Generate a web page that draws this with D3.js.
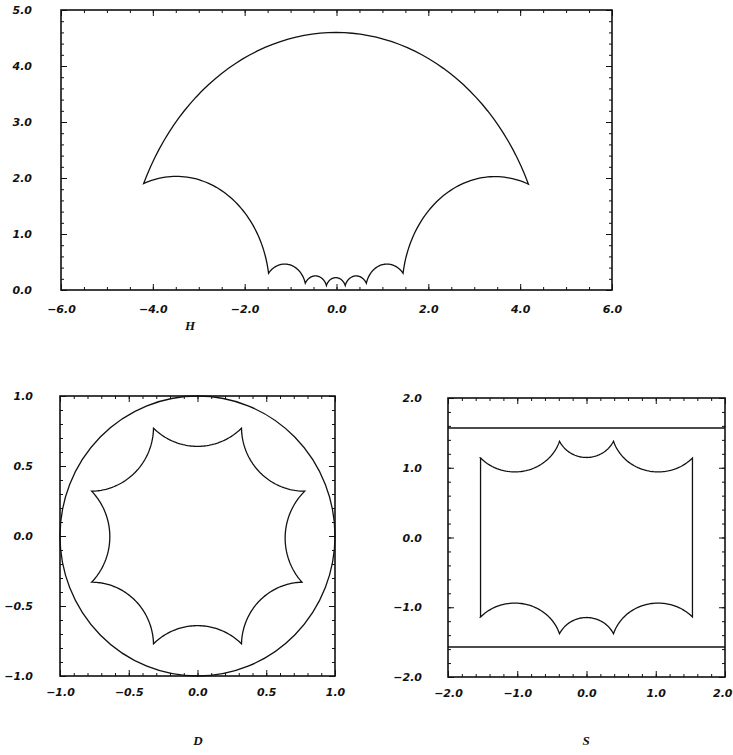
<!DOCTYPE html>
<html>
<head>
<meta charset="utf-8">
<script src="https://cdn.jsdelivr.net/npm/d3@7"></script>
<style>
  body { margin: 0; background: #fff; }
  .tick text { font-family: "DejaVu Sans", sans-serif; font-weight: bold; font-style: italic; font-size: 11px; fill: #111; }
  .tick line { stroke: #111; }
  .title { font-family: "Liberation Serif", serif; font-weight: bold; font-style: italic; font-size: 13px; fill: #111; }
</style>
</head>
<body>
<div id="chart"></div>
<script>
// vertices of the domain (x, y in model coordinates)
const halfPlaneVertices = [
  [-4.2, 1.9], [4.18, 1.89], [1.45, 0.30], [0.65, 0.12], [0.19, 0.08],
  [-0.22, 0.08], [-0.68, 0.12], [-1.48, 0.30]
];
const discVertices = [
  [-0.32, 0.77], [0.32, 0.77], [0.78, 0.32], [0.76, -0.33],
  [0.32, -0.77], [-0.32, -0.77], [-0.77, -0.33], [-0.77, 0.32]
];
const stripVertices = [
  [-1.53, 1.14], [-0.39, 1.38], [0.39, 1.38], [1.53, 1.14],
  [1.53, -1.14], [0.39, -1.38], [-0.39, -1.38], [-1.53, -1.14]
];
const discRadius = 1;
const stripEdges = [1.57, -1.57];

// tick labels
const halfPlaneXTicks = [-6, -4, -2, 0, 2, 4, 6];
const halfPlaneYTicks = [0, 1, 2, 3, 4, 5];
const discTicks = [-1, -0.5, 0, 0.5, 1];
const stripTicks = [-2, -1, 0, 1, 2];

const width = 733, height = 755;
const svg = d3.select("#chart").append("svg")
  .attr("width", width).attr("height", height);

// geodesic between two points, sampled along its arc
const halfPlaneArc = (p, q) => {
  const c = (q[0] * q[0] + q[1] * q[1] - p[0] * p[0] - p[1] * p[1]) / (2 * (q[0] - p[0]));
  const r = Math.hypot(p[0] - c, p[1]);
  const a1 = Math.atan2(p[1], p[0] - c), a2 = Math.atan2(q[1], q[0] - c);
  return d3.range(0, 1.0001, 1 / 60).map(t => {
    const a = a1 + (a2 - a1) * t;
    return [c + r * Math.cos(a), r * Math.sin(a)];
  });
};

const discArc = (p, q) => {
  const kp = (p[0] * p[0] + p[1] * p[1] + 1) / 2, kq = (q[0] * q[0] + q[1] * q[1] + 1) / 2;
  const det = p[0] * q[1] - p[1] * q[0];
  const cx = (kp * q[1] - kq * p[1]) / det, cy = (p[0] * kq - q[0] * kp) / det;
  const r = Math.hypot(p[0] - cx, p[1] - cy);
  const a1 = Math.atan2(p[1] - cy, p[0] - cx);
  let da = Math.atan2(q[1] - cy, q[0] - cx) - a1;
  if (da > Math.PI) da -= 2 * Math.PI;
  if (da < -Math.PI) da += 2 * Math.PI;
  return d3.range(0, 1.0001, 1 / 60).map(t => {
    const a = a1 + da * t;
    return [cx + r * Math.cos(a), cy + r * Math.sin(a)];
  });
};

// strip -> half plane by w = i e^z, and back
const toH = z => [Math.exp(z[0]) * Math.cos(z[1] + Math.PI / 2), Math.exp(z[0]) * Math.sin(z[1] + Math.PI / 2)];
const fromH = w => [Math.log(Math.hypot(w[0], w[1])), Math.atan2(w[1], w[0]) - Math.PI / 2];
const stripArc = (p, q) => halfPlaneArc(toH(p), toH(q)).map(fromH);

const outline = (verts, arc) => verts.flatMap((v, i) => arc(v, verts[(i + 1) % verts.length]));

const drawPanel = (opt) => {
  const x = d3.scaleLinear().domain(opt.xDomain).range([opt.left, opt.right]);
  const y = d3.scaleLinear().domain(opt.yDomain).range([opt.bottom, opt.top]);
  const g = svg.append("g");

  const fmt = d3.format(".1f");
  const xMinor = d3.range(opt.xDomain[0], opt.xDomain[1] + 1e-9, opt.xMinor);
  const yMinor = d3.range(opt.yDomain[0], opt.yDomain[1] + 1e-9, opt.yMinor);

  // minor ticks on all four sides
  g.append("g").attr("transform", `translate(0,${opt.bottom})`)
    .call(d3.axisBottom(x).tickValues(xMinor).tickSize(-3).tickSizeOuter(0).tickFormat(""));
  g.append("g").attr("transform", `translate(0,${opt.top})`)
    .call(d3.axisTop(x).tickValues(xMinor).tickSize(-3).tickSizeOuter(0).tickFormat(""));
  g.append("g").attr("transform", `translate(${opt.left},0)`)
    .call(d3.axisLeft(y).tickValues(yMinor).tickSize(-3).tickSizeOuter(0).tickFormat(""));
  g.append("g").attr("transform", `translate(${opt.right},0)`)
    .call(d3.axisRight(y).tickValues(yMinor).tickSize(-3).tickSizeOuter(0).tickFormat(""));

  // major ticks with labels
  const bottomAxis = g.append("g").attr("transform", `translate(0,${opt.bottom})`)
    .call(d3.axisBottom(x).tickValues(opt.xTicks).tickSize(-6).tickSizeOuter(0)
      .tickPadding(opt.xPad).tickFormat(fmt));
  g.append("g").attr("transform", `translate(${opt.left},0)`)
    .call(d3.axisLeft(y).tickValues(opt.yTicks).tickSize(-6).tickSizeOuter(0)
      .tickPadding(opt.yPad).tickFormat(fmt));
  g.append("g").attr("transform", `translate(0,${opt.top})`)
    .call(d3.axisTop(x).tickValues(opt.xTicks).tickSize(-6).tickSizeOuter(0).tickFormat(""));
  g.append("g").attr("transform", `translate(${opt.right},0)`)
    .call(d3.axisRight(y).tickValues(opt.yTicks).tickSize(-6).tickSizeOuter(0).tickFormat(""));
  g.selectAll(".domain").remove();

  // keep the last x label inside the page
  bottomAxis.selectAll(".tick text").each(function(d) {
    const half = this.getComputedTextLength() / 2;
    const over = x(d) + half - (width - 1);
    if (over > 0) d3.select(this).attr("dx", -over);
  });

  g.append("rect")
    .attr("x", opt.left).attr("y", opt.top)
    .attr("width", opt.right - opt.left).attr("height", opt.bottom - opt.top)
    .attr("fill", "none").attr("stroke", "#111").attr("stroke-width", 1.6);

  g.append("text").attr("class", "title")
    .attr("x", opt.titleX).attr("y", opt.titleY)
    .attr("text-anchor", "middle").attr("dominant-baseline", "middle")
    .text(opt.title);

  const line = d3.line().x(d => x(d[0])).y(d => y(d[1]));
  g.append("path")
    .attr("d", line(opt.points) + "Z")
    .attr("fill", "none").attr("stroke", "#111").attr("stroke-width", 1.3);

  return { g, x, y };
};

drawPanel({
  left: 61, right: 612, top: 10, bottom: 290,
  xDomain: [-6, 6], yDomain: [0, 5], xMinor: 0.5, yMinor: 0.2,
  xTicks: halfPlaneXTicks, yTicks: halfPlaneYTicks, xPad: 15, yPad: 29,
  title: "H", titleX: 190, titleY: 327,
  points: outline(halfPlaneVertices, halfPlaneArc)
});

const disc = drawPanel({
  left: 60, right: 335, top: 396, bottom: 676,
  xDomain: [-1, 1], yDomain: [-1, 1], xMinor: 0.1, yMinor: 0.1,
  xTicks: discTicks, yTicks: discTicks, xPad: 12, yPad: 27,
  title: "D", titleX: 198, titleY: 742,
  points: outline(discVertices, discArc)
});
disc.g.append("ellipse")
  .attr("cx", disc.x(0)).attr("cy", disc.y(0))
  .attr("rx", disc.x(discRadius) - disc.x(0)).attr("ry", disc.y(0) - disc.y(discRadius))
  .attr("fill", "none").attr("stroke", "#111").attr("stroke-width", 1.3);

const strip = drawPanel({
  left: 448, right: 725, top: 398, bottom: 677,
  xDomain: [-2, 2], yDomain: [-2, 2], xMinor: 0.2, yMinor: 0.2,
  xTicks: stripTicks, yTicks: stripTicks, xPad: 12, yPad: 26,
  title: "S", titleX: 586, titleY: 742,
  points: outline(stripVertices, stripArc)
});
strip.g.selectAll(".edge")
  .data(stripEdges)
  .join("line")
  .attr("class", "edge")
  .attr("x1", strip.x(-2)).attr("x2", strip.x(2))
  .attr("y1", d => strip.y(d)).attr("y2", d => strip.y(d))
  .attr("stroke", "#111").attr("stroke-width", 1.3);
</script>
</body>
</html>
